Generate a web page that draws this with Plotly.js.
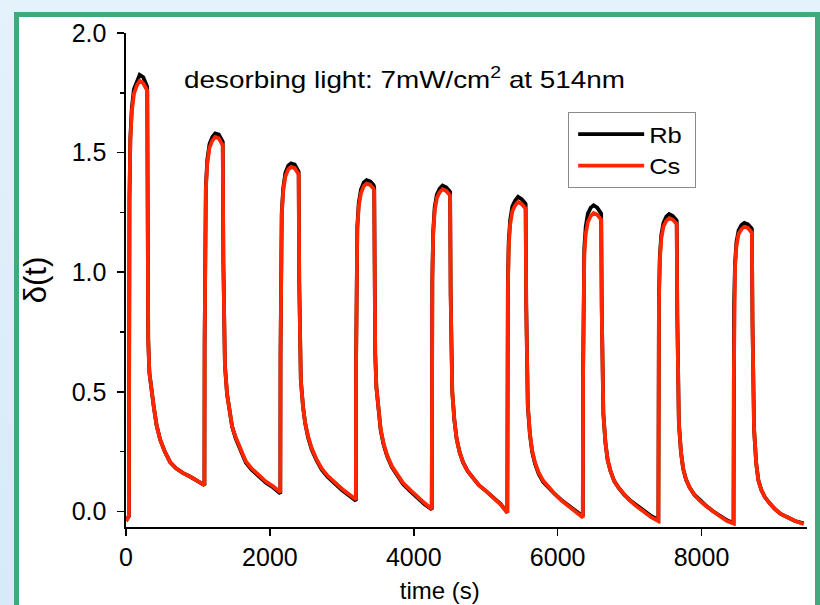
<!DOCTYPE html>
<html>
<head>
<meta charset="utf-8">
<script src="https://cdn.plot.ly/plotly-3.0.1.min.js"></script>
<style>
html, body { margin:0; padding:0; width:820px; height:605px; overflow:hidden;
  background: linear-gradient(to bottom, #e3f2fb 0%, #d6eaf8 100%); }
#frame { position:absolute; left:14px; top:12px; width:806px; height:610px;
  box-sizing:border-box; border:5px solid #41a97b; border-bottom:none; background:#ffffff; }
#chart { position:absolute; left:0; top:0; width:820px; height:605px; }
#chart text.annotation-text, #chart text.legendtext {
  transform-box: fill-box; transform-origin: 0 50%; transform: scaleX(1.16);
}
</style>
</head>
<body>
<div id="frame"></div>
<div id="chart"></div>
<script>
// time (s)
const time = [
  0, 20,
  40,43,48,60,80,110,150,190,240,285, 295,303,309,325,355,385,425,475,540,615,695,795,895,995,
  1090,1093,1098,1110,1130,1160,1200,1240,1290,1335, 1345,1353,1359,1375,1405,1435,1475,1525,1590,1665,1745,1845,1945,2045,
  2145,2148,2153,2165,2185,2215,2255,2295,2345,2390, 2400,2408,2414,2430,2460,2490,2530,2580,2645,2720,2800,2900,3000,3100,
  3195,3198,3203,3215,3235,3265,3305,3345,3395,3440, 3450,3458,3464,3480,3510,3540,3580,3630,3695,3770,3850,3950,4050,4150,
  4250,4253,4258,4270,4290,4320,4360,4400,4450,4495, 4505,4513,4519,4535,4565,4595,4635,4685,4750,4825,4905,5005,5105,5205,
  5300,5303,5308,5320,5340,5370,5410,5450,5500,5545, 5555,5563,5569,5585,5615,5645,5685,5735,5800,5875,5955,6055,6155,6255,
  6350,6353,6358,6370,6390,6420,6460,6500,6550,6595, 6605,6613,6619,6635,6665,6695,6735,6785,6850,6925,7005,7105,7205,7305,
  7400,7403,7408,7420,7440,7470,7510,7550,7600,7645, 7655,7663,7669,7685,7715,7745,7785,7835,7900,7975,8055,8155,8255,8355,
  8445,8448,8453,8465,8485,8515,8555,8595,8645,8690, 8700,8708,8714,8730,8760,8790,8830,8880,8945,9020,9100,9200,9300,9420
];
// Rb signal delta(t)
const rb = [
  -0.02, -0.03,
  -0.02,0.81,1.31,1.56,1.685,1.765,1.80,1.825,1.815,1.785, 1.775,1.15,0.72,0.58,0.50,0.44,0.36,0.30,0.25,0.205,0.18,0.16,0.145,0.125,
  0.11,0.71,1.14,1.36,1.47,1.535,1.565,1.58,1.575,1.555, 1.545,1.05,0.76,0.61,0.49,0.42,0.355,0.305,0.255,0.205,0.175,0.145,0.12,0.10,
  0.075,0.66,1.05,1.25,1.35,1.415,1.445,1.455,1.45,1.43, 1.42,0.96,0.69,0.55,0.44,0.37,0.31,0.26,0.215,0.175,0.145,0.115,0.09,0.067,
  0.045,0.63,1.00,1.19,1.29,1.345,1.375,1.385,1.38,1.365, 1.355,0.92,0.66,0.52,0.41,0.34,0.28,0.23,0.185,0.15,0.115,0.085,0.055,0.03,
  0.008,0.62,0.98,1.17,1.27,1.325,1.35,1.362,1.355,1.34, 1.335,0.91,0.64,0.50,0.38,0.305,0.25,0.205,0.168,0.138,0.11,0.085,0.057,0.032,
  -0.005,0.59,0.945,1.13,1.22,1.275,1.30,1.315,1.305,1.29, 1.285,0.87,0.60,0.44,0.32,0.25,0.20,0.158,0.123,0.098,0.074,0.047,0.024,0.0,
  -0.02,0.57,0.92,1.10,1.19,1.245,1.27,1.28,1.27,1.25, 1.245,0.85,0.565,0.41,0.285,0.215,0.168,0.128,0.098,0.07,0.047,0.023,0.0,-0.02,
  -0.035,0.56,0.89,1.065,1.155,1.205,1.232,1.243,1.235,1.22, 1.215,0.82,0.54,0.37,0.245,0.178,0.133,0.10,0.07,0.046,0.026,0.002,-0.018,-0.037,
  -0.048,0.54,0.87,1.035,1.125,1.175,1.197,1.206,1.20,1.185, 1.18,0.80,0.52,0.345,0.20,0.13,0.09,0.06,0.035,0.01,-0.01,-0.025,-0.04,-0.05
];
// Cs signal delta(t)
const cs = [
  -0.02, -0.03,
  -0.02,0.80,1.30,1.55,1.67,1.745,1.78,1.80,1.79,1.765, 1.76,1.14,0.71,0.58,0.50,0.44,0.36,0.30,0.25,0.205,0.18,0.16,0.145,0.125,
  0.11,0.70,1.13,1.35,1.455,1.52,1.55,1.565,1.56,1.54, 1.53,1.04,0.76,0.61,0.49,0.42,0.355,0.31,0.26,0.21,0.18,0.15,0.125,0.105,
  0.08,0.65,1.04,1.24,1.34,1.40,1.43,1.44,1.435,1.415, 1.41,0.95,0.69,0.55,0.44,0.37,0.315,0.265,0.22,0.18,0.15,0.12,0.095,0.072,
  0.05,0.62,0.99,1.18,1.275,1.33,1.36,1.37,1.365,1.35, 1.34,0.91,0.66,0.52,0.41,0.345,0.285,0.235,0.19,0.155,0.12,0.09,0.06,0.035,
  0.01,0.61,0.97,1.16,1.255,1.31,1.335,1.347,1.34,1.325, 1.32,0.90,0.64,0.50,0.38,0.305,0.25,0.205,0.168,0.138,0.11,0.085,0.055,0.03,
  -0.005,0.58,0.93,1.11,1.20,1.255,1.28,1.294,1.285,1.27, 1.265,0.86,0.60,0.445,0.325,0.255,0.205,0.163,0.128,0.10,0.075,0.045,0.02,-0.005,
  -0.025,0.56,0.90,1.07,1.16,1.21,1.235,1.247,1.24,1.225, 1.22,0.84,0.565,0.41,0.285,0.215,0.168,0.128,0.098,0.07,0.045,0.02,-0.005,-0.025,
  -0.04,0.55,0.88,1.05,1.14,1.19,1.215,1.226,1.22,1.205, 1.20,0.81,0.54,0.37,0.245,0.178,0.133,0.10,0.07,0.045,0.025,0.0,-0.02,-0.04,
  -0.05,0.53,0.86,1.02,1.11,1.16,1.18,1.19,1.185,1.17, 1.165,0.79,0.52,0.345,0.20,0.13,0.09,0.06,0.035,0.01,-0.01,-0.025,-0.04,-0.052
];
const seriesNames = ['Rb', 'Cs'];
const yTickVals = [0, 0.5, 1.0, 1.5, 2.0];
const xTickVals = [0, 2000, 4000, 6000, 8000];
const noteText = 'desorbing light: 7mW/cm<sup>2</sup> at 514nm';
const xTitle = 'time (s)';
const yTitle = 'δ(t)';

const FONT = 'Liberation Sans, Arial, Helvetica, sans-serif';
const NB = '&nbsp;'.repeat(8);
const PAD = '&nbsp;&nbsp;';

const traces = [
  { x: time, y: rb, name: seriesNames[0] + PAD, type: 'scatter', mode: 'lines',
    line: { color: '#000000', width: 3.8 } },
  { x: time, y: cs, name: seriesNames[1] + PAD, type: 'scatter', mode: 'lines',
    line: { color: '#ff2600', width: 3.8 } }
];

const layout = {
  width: 820, height: 605,
  margin: { l: 126, r: 13, t: 33, b: 78 },
  paper_bgcolor: 'rgba(0,0,0,0)',
  plot_bgcolor: 'rgba(0,0,0,0)',
  font: { family: FONT, size: 24, color: '#000' },
  showlegend: true,
  legend: {
    x: 0.649, y: 0.84, xanchor: 'left', yanchor: 'top',
    bgcolor: '#ffffff', bordercolor: '#8a8a8a', borderwidth: 1.2,
    font: { family: FONT, size: 22, color: '#000' },
    itemwidth: 66, indentation: 4, tracegroupgap: 0
  },
  xaxis: {
    range: [0, 9466], tickvals: xTickVals, ticktext: xTickVals.map(String),
    showgrid: false, zeroline: false, showline: true, linecolor: '#000', linewidth: 1.6,
    ticks: 'outside', ticklen: 7, tickwidth: 1.6, tickcolor: '#000',
    tickfont: { family: FONT, size: 25 },
    title: { text: xTitle + NB, font: { family: FONT, size: 24 }, standoff: 12 }
  },
  xaxis2: {
    overlaying: 'x', anchor: 'y', range: [0, 9466], tickvals: xTickVals,
    showgrid: false, zeroline: false, showline: false, showticklabels: false,
    ticks: 'inside', ticklen: 7, tickwidth: 1.6, tickcolor: '#000'
  },
  yaxis: {
    range: [-0.065, 2.0], tickvals: yTickVals, ticktext: yTickVals.map(v => v.toFixed(1)),
    showgrid: false, zeroline: false, showline: true, linecolor: '#000', linewidth: 1.6,
    ticks: 'outside', ticklen: 7, tickwidth: 1.6, tickcolor: '#000',
    ticklabelstandoff: 6,
    minor: { dtick: 0.25, tick0: 0, ticks: 'outside', ticklen: 4, tickwidth: 1.4, tickcolor: '#000', showgrid: false },
    tickfont: { family: FONT, size: 25 },
    title: { text: yTitle, font: { family: FONT, size: 31 }, standoff: 16 }
  },
  annotations: [{
    xref: 'paper', yref: 'paper', x: 0.082, y: 0.909, xanchor: 'left', yanchor: 'middle',
    text: noteText, showarrow: false, font: { family: FONT, size: 24, color: '#000' }
  }]
};

Plotly.newPlot('chart', traces, layout, { displayModeBar: false, staticPlot: true });
</script>
</body>
</html>
